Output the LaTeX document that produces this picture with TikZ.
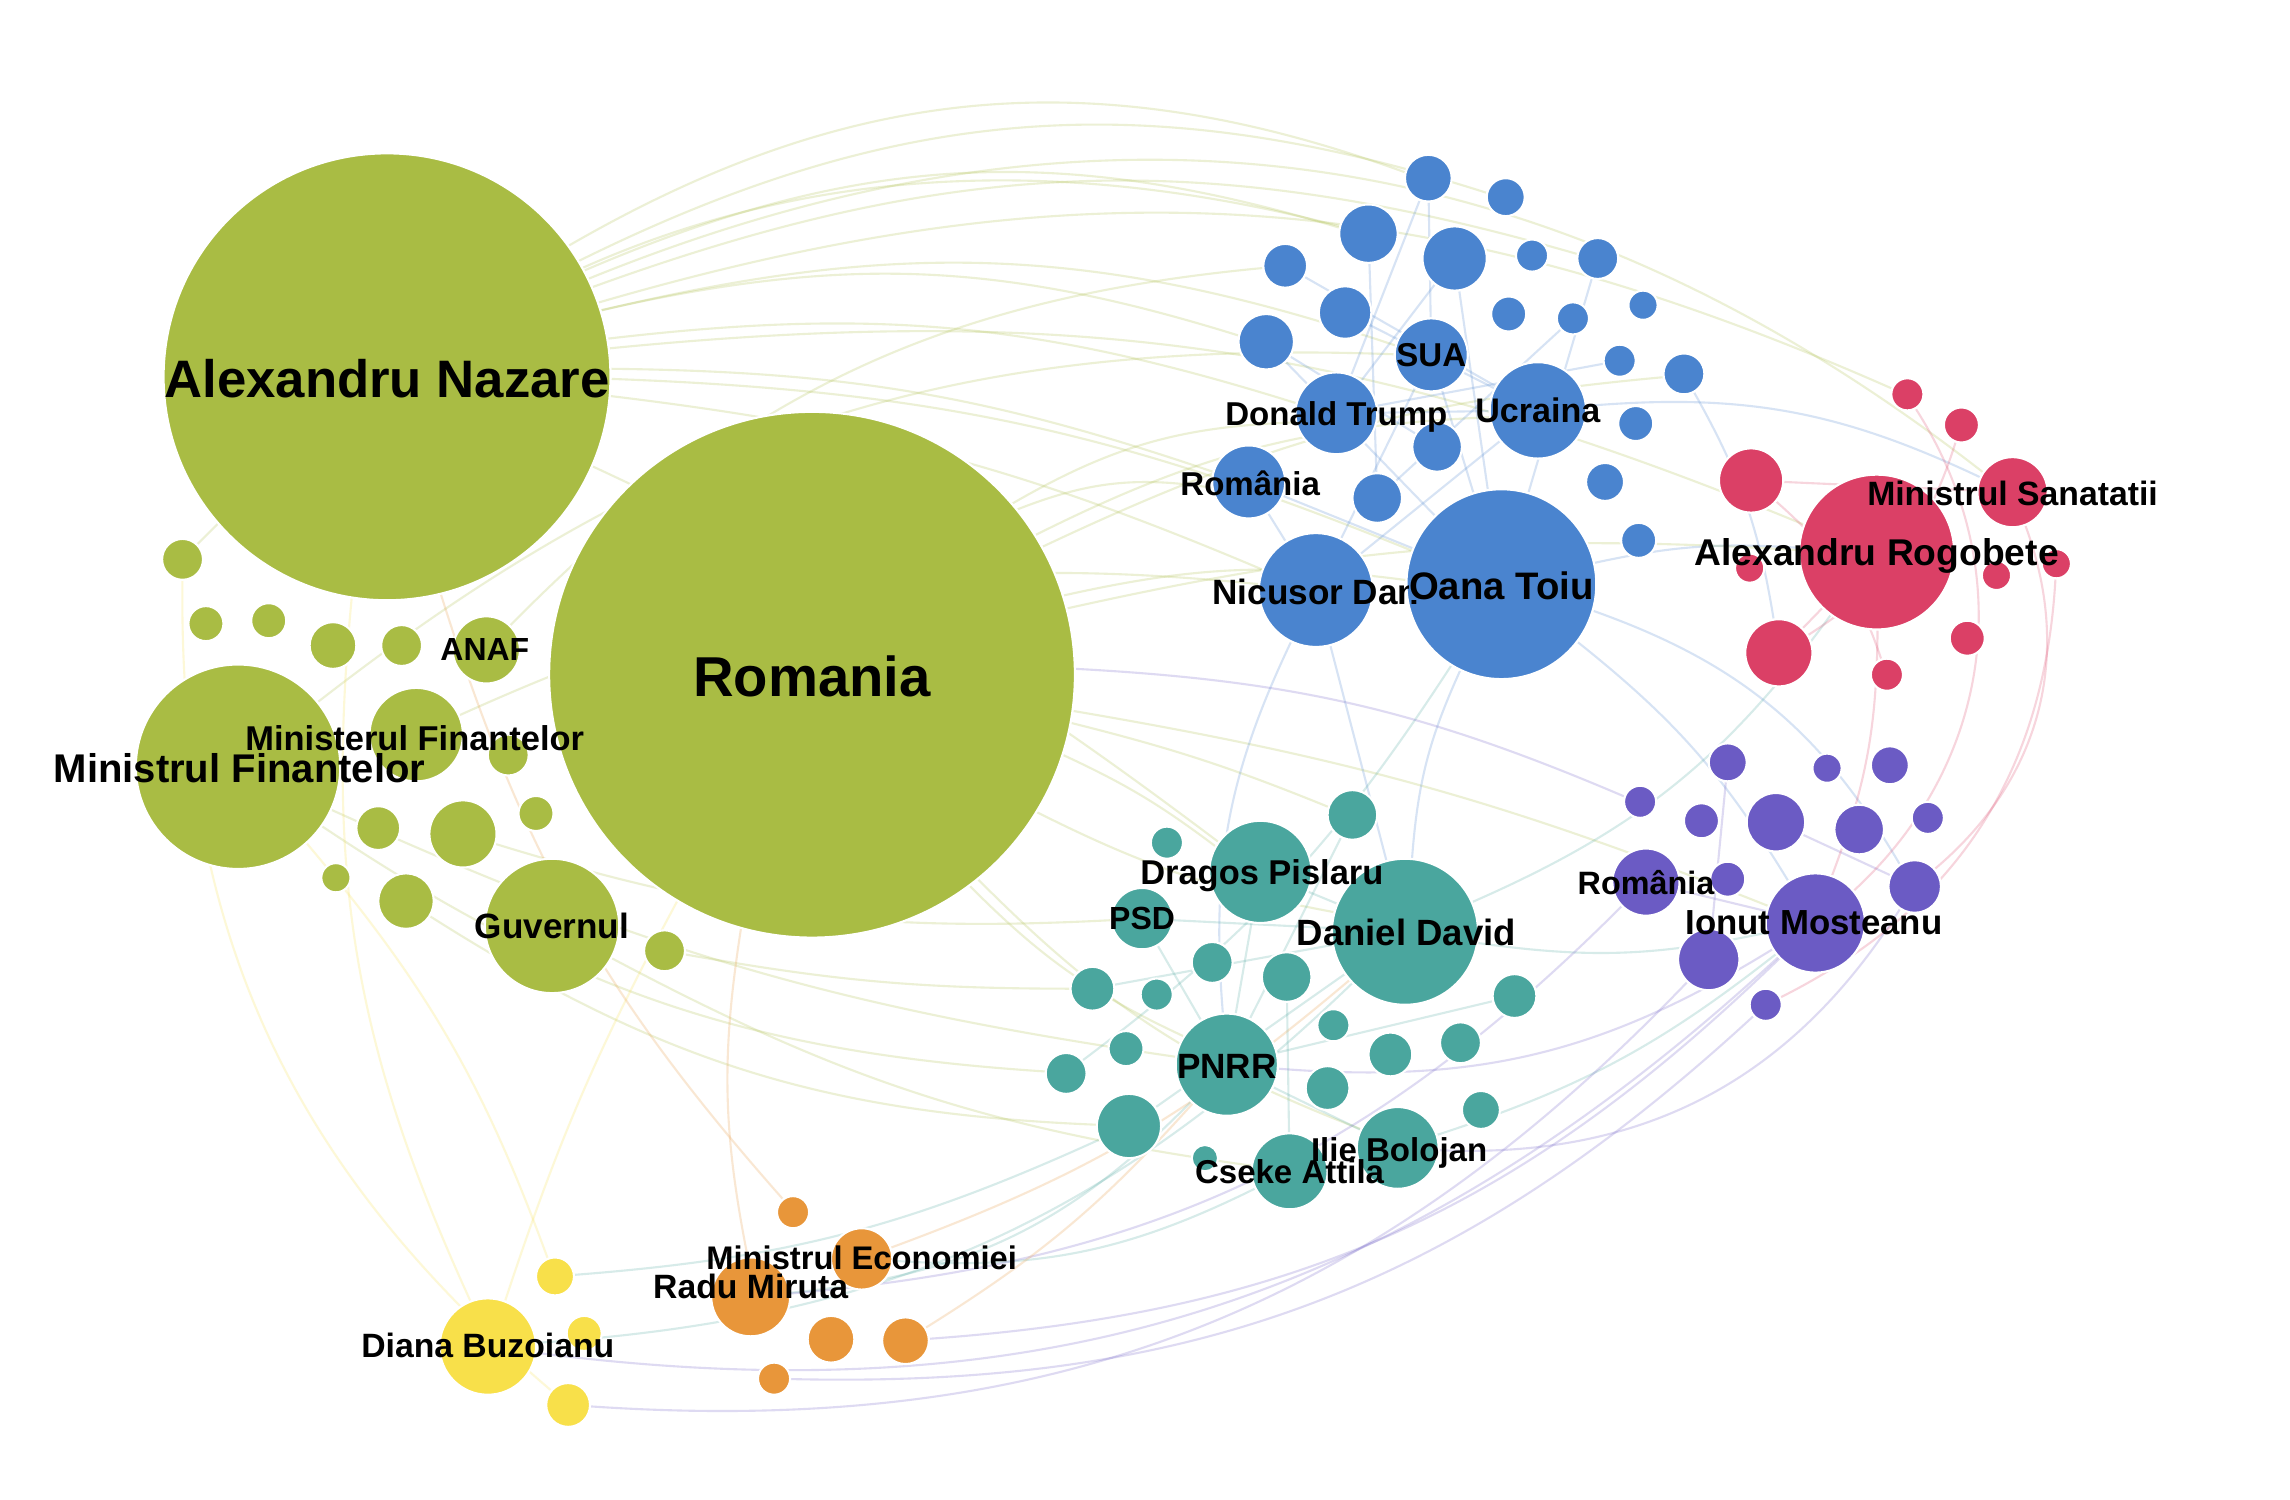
\documentclass[tikz,border=0pt]{standalone}
\usepackage{fontspec}
\setmainfont{Liberation Sans}
\usetikzlibrary{backgrounds}
\definecolor{cgreen}{RGB}{169,188,68}
\definecolor{cblue}{RGB}{74,132,207}
\definecolor{cred}{RGB}{219,64,102}
\definecolor{cpurple}{RGB}{107,91,196}
\definecolor{cteal}{RGB}{74,166,158}
\definecolor{corange}{RGB}{232,150,58}
\definecolor{cyellow}{RGB}{248,224,74}

\begin{document}
\begin{tikzpicture}[x=0.14605mm, y=-0.14605mm,
  bub/.style={circle, draw=white, line width=0.6pt, inner sep=0pt, minimum size=#1*0.2921mm},
  lbl/.style={font=\bfseries\fontsize{#1}{#1}\selectfont, inner sep=0pt, text depth=0pt},
  lbl/.default=9.5,
  edge/.style={line width=0.6pt, opacity=0.22}]
\useasboundingbox (0,0) rectangle (1568,1027);
% green cluster
\node[bub=153, fill=cgreen] (nazare) at (265,258) {};
\node[bub=180, fill=cgreen] (romania) at (556,462) {};
\node[bub=70, fill=cgreen] (minfin) at (163,525) {};
\node[bub=46, fill=cgreen] (guvernul) at (378,634) {};
\node[bub=23, fill=cgreen] (anaf) at (333,445) {};
\node[bub=32, fill=cgreen] (mfin) at (285,503) {};
\node[bub=14, fill=cgreen] (g1) at (125,383) {};
\node[bub=12, fill=cgreen] (g2) at (141,427) {};
\node[bub=12, fill=cgreen] (g3) at (184,425) {};
\node[bub=16, fill=cgreen] (g4) at (228,442) {};
\node[bub=14, fill=cgreen] (g5) at (275,442) {};
\node[bub=14, fill=cgreen] (g6) at (348,517) {};
\node[bub=15, fill=cgreen] (g7) at (259,567) {};
\node[bub=23, fill=cgreen] (g8) at (317,571) {};
\node[bub=12, fill=cgreen] (g9) at (367,557) {};
\node[bub=10, fill=cgreen] (g10) at (230,601) {};
\node[bub=19, fill=cgreen] (g11) at (278,617) {};
\node[bub=14, fill=cgreen] (g12) at (455,651) {};
% blue cluster
\node[bub=16, fill=cblue] (b1) at (978,122) {};
\node[bub=13, fill=cblue] (b2) at (1031,135) {};
\node[bub=20, fill=cblue] (b3) at (937,160) {};
\node[bub=22, fill=cblue] (b4) at (996,177) {};
\node[bub=15, fill=cblue] (b5) at (880,182) {};
\node[bub=11, fill=cblue] (b6) at (1049,175) {};
\node[bub=14, fill=cblue] (b7) at (1094,177) {};
\node[bub=18, fill=cblue] (b8) at (921,214) {};
\node[bub=12, fill=cblue] (b9) at (1033,215) {};
\node[bub=11, fill=cblue] (b10) at (1077,218) {};
\node[bub=10, fill=cblue] (b11) at (1125,209) {};
\node[bub=19, fill=cblue] (b12) at (867,234) {};
\node[bub=25, fill=cblue] (sua) at (980,243) {};
\node[bub=11, fill=cblue] (b13) at (1109,247) {};
\node[bub=14, fill=cblue] (b14) at (1153,256) {};
\node[bub=28, fill=cblue] (trump) at (915,283) {};
\node[bub=33, fill=cblue] (ucraina) at (1053,281) {};
\node[bub=12, fill=cblue] (b15) at (1120,290) {};
\node[bub=17, fill=cblue] (b16) at (984,306) {};
\node[bub=25, fill=cblue] (romB) at (855,330) {};
\node[bub=17, fill=cblue] (b17) at (943,341) {};
\node[bub=13, fill=cblue] (b18) at (1099,330) {};
\node[bub=39, fill=cblue] (nicusor) at (901,404) {};
\node[bub=65, fill=cblue] (oana) at (1028,400) {};
\node[bub=12, fill=cblue] (b19) at (1122,370) {};
% red cluster
\node[bub=11, fill=cred] (r1) at (1306,270) {};
\node[bub=12, fill=cred] (r2) at (1343,291) {};
\node[bub=22, fill=cred] (r3) at (1199,329) {};
\node[bub=24, fill=cred] (sanatatii) at (1378,337) {};
\node[bub=53, fill=cred] (rogobete) at (1285,378) {};
\node[bub=10, fill=cred] (r4) at (1198,389) {};
\node[bub=10, fill=cred] (r5) at (1367,394) {};
\node[bub=10, fill=cred] (r6) at (1408,386) {};
\node[bub=23, fill=cred] (r7) at (1218,447) {};
\node[bub=12, fill=cred] (r8) at (1347,437) {};
\node[bub=11, fill=cred] (r9) at (1292,462) {};
% purple cluster
\node[bub=13, fill=cpurple] (p1) at (1183,522) {};
\node[bub=10, fill=cpurple] (p2) at (1251,526) {};
\node[bub=13, fill=cpurple] (p3) at (1294,524) {};
\node[bub=11, fill=cpurple] (p4) at (1123,549) {};
\node[bub=12, fill=cpurple] (p5) at (1165,562) {};
\node[bub=20, fill=cpurple] (p6) at (1216,563) {};
\node[bub=17, fill=cpurple] (p7) at (1273,568) {};
\node[bub=11, fill=cpurple] (p8) at (1320,560) {};
\node[bub=23, fill=cpurple] (romP) at (1127,604) {};
\node[bub=12, fill=cpurple] (p9) at (1183,602) {};
\node[bub=18, fill=cpurple] (p10) at (1311,607) {};
\node[bub=34, fill=cpurple] (mosteanu) at (1243,632) {};
\node[bub=21, fill=cpurple] (p11) at (1170,657) {};
\node[bub=11, fill=cpurple] (p12) at (1209,688) {};
% teal cluster
\node[bub=17, fill=cteal] (t1) at (926,558) {};
\node[bub=11, fill=cteal] (t2) at (799,577) {};
\node[bub=35, fill=cteal] (dragos) at (863,597) {};
\node[bub=21, fill=cteal] (psd) at (782,629) {};
\node[bub=50, fill=cteal] (david) at (962,638) {};
\node[bub=14, fill=cteal] (t3) at (830,659) {};
\node[bub=17, fill=cteal] (t4) at (881,669) {};
\node[bub=15, fill=cteal] (t5) at (748,677) {};
\node[bub=11, fill=cteal] (t6) at (792,681) {};
\node[bub=15, fill=cteal] (t7) at (1037,682) {};
\node[bub=11, fill=cteal] (t8) at (913,702) {};
\node[bub=12, fill=cteal] (t9) at (771,718) {};
\node[bub=35, fill=cteal] (pnrr) at (840,729) {};
\node[bub=15, fill=cteal] (t10) at (952,722) {};
\node[bub=14, fill=cteal] (t11) at (1000,714) {};
\node[bub=14, fill=cteal] (t12) at (730,735) {};
\node[bub=15, fill=cteal] (t13) at (909,745) {};
\node[bub=22, fill=cteal] (t14) at (773,771) {};
\node[bub=13, fill=cteal] (t15) at (1014,760) {};
\node[bub=28, fill=cteal] (bolojan) at (957,786) {};
\node[bub=26, fill=cteal] (cseke) at (883,802) {};
\node[bub=9, fill=cteal] (t16) at (825,793) {};
% orange and yellow
\node[bub=11, fill=corange] (o1) at (543,830) {};
\node[bub=21, fill=corange] (mineco) at (590,862) {};
\node[bub=27, fill=corange] (miruta) at (514,888) {};
\node[bub=16, fill=corange] (o2) at (569,917) {};
\node[bub=16, fill=corange] (o3) at (620,918) {};
\node[bub=11, fill=corange] (o4) at (530,944) {};
\node[bub=13, fill=cyellow] (y1) at (380,874) {};
\node[bub=33, fill=cyellow] (buzoianu) at (334,922) {};
\node[bub=12, fill=cyellow] (y2) at (400,913) {};
\node[bub=15, fill=cyellow] (y3) at (389,962) {};
% labels
\node[lbl=15] (nazare-t) at (265,259) {Alexandru Nazare};
\node[lbl=16] (romania-t) at (556,463) {Romania};
\node[lbl=9.8] (mfin-t) at (284,505) {Ministerul Finantelor};
\node[lbl=11.4] (minfin-t) at (164,526) {Ministrul Finantelor};
\node[lbl=9.1] (anaf-t) at (332,445) {ANAF};
\node[lbl=10] (guvernul-t) at (378,634) {Guvernul};
\node[lbl=9.4] (sua-t) at (980,243) {SUA};
\node[lbl=9.4] (trump-t) at (915,283) {Donald Trump};
\node[lbl=9.7] (ucraina-t) at (1053,281) {Ucraina};
\node[lbl=9.4] (romB-t) at (856,331) {România};
\node[lbl=10] (nicusor-t) at (901,405) {Nicusor Dan};
\node[lbl=10.9, fill=cblue] (oana-t) at (1028,401) {Oana Toiu};
\node[lbl=9.6] (sanatatii-t) at (1378,338) {Ministrul Sanatatii};
\node[lbl=10.6] (rogobete-t) at (1285,378) {Alexandru Rogobete};
\node[lbl=9.2] (romP-t) at (1127,604) {România};
\node[lbl=9.9] (mosteanu-t) at (1242,632) {Ionut Mosteanu};
\node[lbl=9.8] (dragos-t) at (864,597) {Dragos Pislaru};
\node[lbl=9.1] (psd-t) at (782,629) {PSD};
\node[lbl=10.4] (david-t) at (963,638) {Daniel David};
\node[lbl=10] (pnrr-t) at (840,730) {PNRR};
\node[lbl=9.4] (bolojan-t) at (958,787) {Ilie Bolojan};
\node[lbl=9.4] (cseke-t) at (883,802) {Cseke Attila};
\node[lbl=9.3] (mineco-t) at (590,861) {Ministrul Economiei};
\node[lbl=9.6] (miruta-t) at (514,881) {Radu Miruta};
\node[lbl=9.6] (buzoianu-t) at (334,921) {Diana Buzoianu};
% links behind the bubbles
\begin{scope}[on background layer]
\fill[white] (0,0) rectangle (1568,1027);
\draw[edge, cgreen] (nazare) to[bend left=25] (b1); \draw[edge, cgreen] (nazare) to[bend left=20] (b3);
\draw[edge, cgreen] (nazare) to[bend left=15] (b12); \draw[edge, cgreen] (nazare) to[bend left=12] (trump);
\draw[edge, cgreen] (nazare) to[bend left=10] (oana); \draw[edge, cgreen] (nazare) to[bend left=18] (b7);
\draw[edge, cgreen] (nazare) to[bend left=20] (r1); \draw[edge, cgreen] (nazare) to[bend left=8] (nicusor);
\draw[edge, cgreen] (nazare) to[bend left=14] (rogobete); \draw[edge, cgreen] (nazare) to[bend left=30] (sanatatii);
\draw[edge, cgreen] (nazare) to[bend left=22] (b2); \draw[edge, cgreen] (nazare) to[bend left=16] (sua);
\draw[edge, cgreen] (nazare) to[bend left=6] (dragos); \draw[edge, cgreen] (nazare) to[bend left=9] (romB);
\draw[edge, cgreen] (romania) to[bend left=15] (romB); \draw[edge, cgreen] (romania) to[bend left=12] (ucraina);
\draw[edge, cgreen] (romania) to[bend left=10] (oana); \draw[edge, cgreen] (romania) to[bend left=8] (rogobete);
\draw[edge, cgreen] (romania) to[bend left=6] (dragos); \draw[edge, cgreen] (romania) to[bend right=10] (pnrr);
\draw[edge, cgreen] (romania) to[bend right=8] (david); \draw[edge, cgreen] (romania) to[bend left=6] (mosteanu);
\draw[edge, cgreen] (romania) to[bend right=12] (bolojan); \draw[edge, cgreen] (romania) to[bend left=10] (b14);
\draw[edge, cgreen] (romania) to[bend left=14] (trump); \draw[edge, cgreen] (romania) to[bend left=4] (t1);
\draw[edge, cgreen] (minfin) to[bend left=20] (sua); \draw[edge, cgreen] (minfin) to[bend right=8] (pnrr);
\draw[edge, cgreen] (minfin) to[bend right=15] (t12); \draw[edge, cgreen] (g8) to[bend right=10] (psd);
\draw[edge, cgreen] (guvernul) to[bend right=10] (cseke); \draw[edge, cgreen] (anaf) to[bend left=20] (b5);
\draw[edge, cgreen] (mfin) to[bend left=15] (nicusor); \draw[edge, cgreen] (g1) to[bend left=30] (b3);
\draw[edge, cgreen] (g11) to[bend right=15] (t14); \draw[edge, cgreen] (g12) to[bend right=5] (t5);
\draw[edge, cblue] (oana) to[bend left=10] (mosteanu); \draw[edge, cblue] (oana) to[bend right=10] (david);
\draw[edge, cblue] (oana) to[bend left=8] (rogobete); \draw[edge, cblue] (trump) to (ucraina);
\draw[edge, cblue] (sua) to (oana); \draw[edge, cblue] (nicusor) to (david);
\draw[edge, cblue] (b4) to (oana); \draw[edge, cblue] (romB) to (nicusor);
\draw[edge, cblue] (b12) to (oana); \draw[edge, cblue] (ucraina) to[bend left=15] (sanatatii);
\draw[edge, cblue] (nicusor) to[bend right=15] (pnrr); \draw[edge, cblue] (oana) to[bend left=20] (p10);
\draw[edge, cblue] (b14) to[bend left=10] (r7); \draw[edge, cblue] (b3) to (b17);
\draw[edge, cblue] (b5) to (ucraina); \draw[edge, cblue] (b1) to (trump);
\draw[edge, cblue] (b1) to (sua); \draw[edge, cblue] (b4) to (trump);
\draw[edge, cblue] (b8) to (ucraina); \draw[edge, cblue] (b12) to (b16);
\draw[edge, cblue] (sua) to (nicusor); \draw[edge, cblue] (b7) to (oana);
\draw[edge, cblue] (b10) to (b17); \draw[edge, cblue] (ucraina) to (nicusor);
\draw[edge, cblue] (romB) to (oana); \draw[edge, cblue] (b13) to (trump);
\draw[edge, cteal] (david) to[bend right=10] (mosteanu); \draw[edge, cteal] (pnrr) to[bend left=20] (miruta);
\draw[edge, cteal] (david) to[bend left=20] (buzoianu); \draw[edge, cteal] (cseke) to[bend left=15] (mineco);
\draw[edge, cteal] (bolojan) to[bend right=10] (mosteanu); \draw[edge, cteal] (dragos) to (david);
\draw[edge, cteal] (psd) to (pnrr); \draw[edge, cteal] (david) to[bend right=15] (rogobete);
\draw[edge, cteal] (t12) to[bend right=10] (oana); \draw[edge, cteal] (t14) to[bend left=10] (y1);
\draw[edge, cteal] (dragos) to (pnrr); \draw[edge, cteal] (psd) to (david);
\draw[edge, cteal] (pnrr) to (bolojan); \draw[edge, cteal] (t1) to (pnrr);
\draw[edge, cteal] (t5) to (david); \draw[edge, cteal] (cseke) to (t4);
\draw[edge, cteal] (t14) to (david); \draw[edge, cteal] (t7) to (pnrr);
\draw[edge, cpurple] (mosteanu) to[bend left=25] (buzoianu); \draw[edge, cpurple] (romP) to[bend left=20] (miruta);
\draw[edge, cpurple] (p11) to[bend left=25] (y3); \draw[edge, cpurple] (mosteanu) to[bend left=20] (o3);
\draw[edge, cpurple] (p10) to[bend left=30] (bolojan); \draw[edge, cpurple] (p12) to[bend left=22] (o4);
\draw[edge, cpurple] (p4) to[bend right=10] (romania); \draw[edge, cpurple] (mosteanu) to[bend left=18] (pnrr);
\draw[edge, cpurple] (romP) to (mosteanu); \draw[edge, cpurple] (p1) to (p11);
\draw[edge, cpurple] (p6) to (p10);
\draw[edge, cred] (rogobete) to[bend left=10] (mosteanu); \draw[edge, cred] (r1) to[bend left=40] (mosteanu);
\draw[edge, cred] (sanatatii) to[bend left=35] (p10); \draw[edge, cred] (r6) to[bend left=30] (p12);
\draw[edge, cred] (r3) to[bend left=15] (r9); \draw[edge, cred] (r2) to[bend left=20] (r7);
\draw[edge, cred] (rogobete) to (r7); \draw[edge, cred] (r3) to (sanatatii);
\draw[edge, cyellow] (buzoianu) to[bend left=15] (nazare); \draw[edge, cyellow] (buzoianu) to[bend left=5] (romania);
\draw[edge, cyellow] (y1) to[bend right=10] (minfin); \draw[edge, cyellow] (y3) to[bend left=25] (g1);
\draw[edge, corange] (miruta) to[bend left=10] (romania); \draw[edge, corange] (mineco) to[bend right=10] (david);
\draw[edge, corange] (o3) to[bend right=8] (pnrr); \draw[edge, corange] (o1) to[bend left=12] (nazare);
\end{scope}
\end{tikzpicture}
\end{document}
